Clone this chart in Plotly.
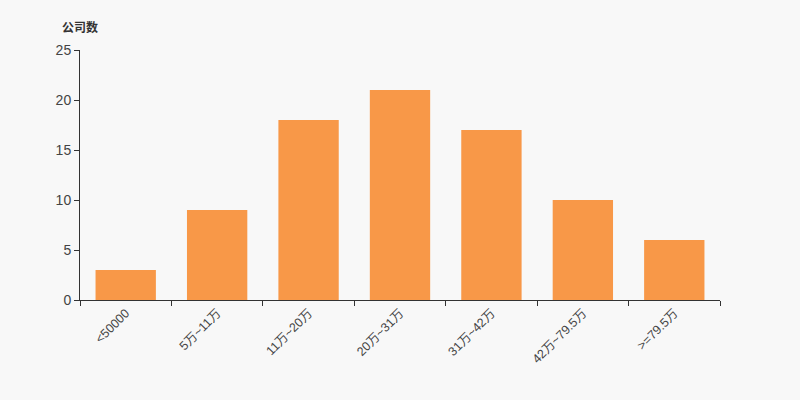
import plotly.graph_objects as go

categories = ["<50000", "5万~11万", "11万~20万", "20万~31万", "31万~42万", "42万~79.5万", ">=79.5万"]
values = [3, 9, 18, 21, 17, 10, 6]
y_ticks = [0, 5, 10, 15, 20, 25]

fig = go.Figure(go.Bar(
    x=categories, y=values,
    marker=dict(color="#f89848", line=dict(width=0)),
    hoverinfo="x+y",
))

fig.update_layout(
    width=800, height=400,
    paper_bgcolor="#f8f8f8", plot_bgcolor="#f8f8f8",
    margin=dict(l=80, r=80, t=50, b=100),
    bargap=0.34,
    showlegend=False,
    font=dict(family="Liberation Sans, Noto Sans CJK SC, sans-serif", size=12, color="#333"),
    annotations=[dict(
        text="<b>公司数</b>", x=0.0, y=1.09, xref="paper", yref="paper",
        showarrow=False, font=dict(size=12, color="#333"), xanchor="center", yanchor="middle",
    )],
)
fig.update_xaxes(
    type="category", showline=True, linecolor="#333", linewidth=1,
    ticks="outside", ticklen=5, tickcolor="#333", tickangle=-45,
    tickfont=dict(size=12.5, color="#444"), showgrid=False, zeroline=False,
    tickson="boundaries",
)
fig.update_yaxes(
    range=[0, 25], tickvals=y_ticks, showline=True, linecolor="#333", linewidth=1,
    ticks="outside", ticklen=5, tickcolor="#333", showgrid=False, zeroline=False,
    tickfont=dict(size=14, color="#444"),
)

fig.write_html("out.html", config={"displayModeBar": False},
               post_script="document.body.style.margin='0';")
